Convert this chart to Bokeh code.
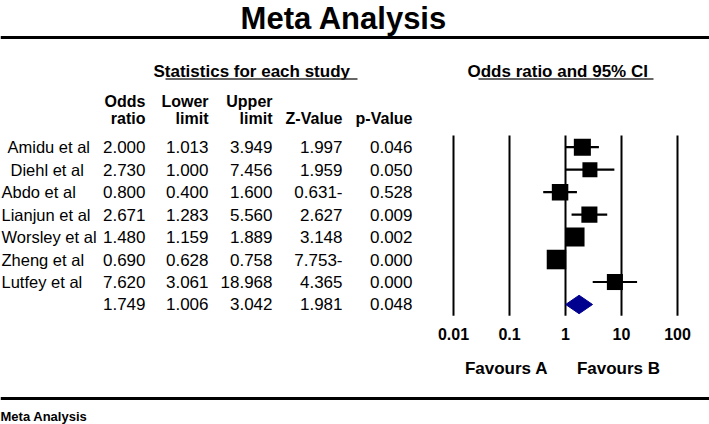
from bokeh.plotting import figure
from bokeh.models import Range1d, LogScale, Span
from bokeh.core.properties import value
from bokeh.embed import file_html
from bokeh.resources import INLINE

# ---------------- data ----------------
studies = ["Amidu et al", "Diehl et al", "Abdo et al", "Lianjun et al",
           "Worsley et al", "Zheng et al", "Lutfey et al"]
odds_ratio = [2.000, 2.730, 0.800, 2.671, 1.480, 0.690, 7.620]
lower_limit = [1.013, 1.000, 0.400, 1.283, 1.159, 0.628, 3.061]
upper_limit = [3.949, 7.456, 1.600, 5.560, 1.889, 0.758, 18.968]
z_value = [1.997, 1.959, -0.631, 2.627, 3.148, -7.753, 4.365]
p_value = [0.046, 0.050, 0.528, 0.009, 0.002, 0.000, 0.000]
rel_weight = [14.2, 11.0, 13.3, 12.6, 17.7, 18.6, 12.6]   # relative weights (%)

summary_or = 1.749
summary_lower = 1.006
summary_upper = 3.042
summary_z = 1.981
summary_p = 0.048

tick_values = [0.01, 0.1, 1, 10, 100]
tick_labels = ["0.01", "0.1", "1", "10", "100"]

title_text = "Meta Analysis"
left_heading = "Statistics for each study"
right_heading = "Odds ratio and 95% CI"
col_head_top = ["Odds", "Lower", "Upper", "", ""]
col_head_bottom = ["ratio", "limit", "limit", "Z-Value", "p-Value"]
favours = ["Favours A", "Favours B"]
favours_at = [0.1, 10]
footer_text = "Meta Analysis"

# ---------------- layout ----------------
W, H = 709, 424
ROW0, ROWH = 146.7, 22.47          # y of first row, row pitch (px)
OR_X1, DEC = 565.0, 56.0           # x of OR=1, px per decade
col_right = [145, 208, 272, 342, 412]
name_indent = [6, 9, 0, 0, 0, 0, 0]

FONT = value("Liberation Sans")

p = figure(width=W, height=H, output_backend="svg", toolbar_location=None,
           x_range=Range1d(0, W), y_range=Range1d(H, 0),
           x_axis_location=None, y_axis_location=None,
           min_border=0, outline_line_color=None)
p.xgrid.visible = False
p.ygrid.visible = False
p.background_fill_color = "white"
p.border_fill_color = "white"

p.extra_x_ranges = {"or": Range1d(10 ** ((0 - OR_X1) / DEC), 10 ** ((W - OR_X1) / DEC))}
p.extra_x_scales = {"or": LogScale()}
p.extra_y_ranges = {"rows": Range1d((H - ROW0) / ROWH, (0 - ROW0) / ROWH)}

# title and rules
p.text(x=[343.5], y=[18], text=[title_text], text_font=FONT, text_font_style="bold",
       text_font_size="31px", text_align="center", text_baseline="middle", text_color="black")
p.add_layout(Span(location=37, dimension="width", line_color="black", line_width=3))
p.add_layout(Span(location=398, dimension="width", line_color="black", line_width=3))
p.text(x=[0], y=[415.5], text=[footer_text], text_font=FONT, text_font_style="bold",
       text_font_size="13px", text_align="left", text_baseline="middle", text_color="black")

# section headings with underline
p.text(x=[153, 467], y=[71, 71], text=[left_heading, right_heading], text_font=FONT,
       text_font_style="bold", text_font_size="17px", text_align="left",
       text_baseline="middle", text_color="black")
p.segment(x0=[165, 478], y0=[78.5, 78.5], x1=[357, 653], y1=[78.5, 78.5],
          line_color="#333333", line_width=1.5)

# column headers
p.text(x=col_right, y=[101] * 5, text=col_head_top, text_font=FONT, text_font_style="bold",
       text_font_size="16px", text_align="right", text_baseline="middle", text_color="black")
p.text(x=col_right, y=[118] * 5, text=col_head_bottom, text_font=FONT, text_font_style="bold",
       text_font_size="16px", text_align="right", text_baseline="middle", text_color="black")

# table body
rows = list(range(len(studies)))
def fmt_z(v):
    return f"{abs(v):.3f}-" if v < 0 else f"{v:.3f}"

cols = [
    [f"{v:.3f}" for v in odds_ratio] + [f"{summary_or:.3f}"],
    [f"{v:.3f}" for v in lower_limit] + [f"{summary_lower:.3f}"],
    [f"{v:.3f}" for v in upper_limit] + [f"{summary_upper:.3f}"],
    [fmt_z(v) for v in z_value] + [fmt_z(summary_z)],
    [f"{v:.3f}" for v in p_value] + [f"{summary_p:.3f}"],
]
all_rows = rows + [len(studies)]
p.text(x=[1 + d for d in name_indent], y=rows, text=studies, y_range_name="rows", text_font=FONT,
       text_font_size="16.5px", text_align="left", text_baseline="middle", text_color="black")
for xr, c in zip(col_right, cols):
    p.text(x=[xr] * len(c), y=all_rows, text=c, y_range_name="rows", text_font=FONT,
           text_font_size="17px", text_align="right", text_baseline="middle", text_color="black")

# forest plot
n = len(studies)
p.segment(x0=tick_values, x1=tick_values, y0=[-0.52] * 5, y1=[n + 0.5] * 5,
          x_range_name="or", y_range_name="rows", line_color="black", line_width=2)
p.segment(x0=lower_limit, x1=upper_limit, y0=rows, y1=rows,
          x_range_name="or", y_range_name="rows", line_color="black", line_width=2.2)
sizes = [4.52 * (w ** 0.5) for w in rel_weight]
p.scatter(x=odds_ratio, y=rows, size=sizes, marker="square", x_range_name="or",
          y_range_name="rows", fill_color="black", line_color="black", line_width=0)
dh = 0.41
p.patch(x=[summary_lower, summary_or, summary_upper, summary_or],
        y=[n, n - dh, n, n + dh], x_range_name="or", y_range_name="rows",
        fill_color="#00008f", line_color="#00008f", line_width=1)

# tick labels and favours
p.text(x=tick_values, y=[333] * 5, text=tick_labels, x_range_name="or", text_font=FONT,
       text_font_style="bold", text_font_size="16px", text_align="center",
       text_baseline="middle", text_color="black")
p.text(x=favours_at, y=[368, 368], text=favours, x_range_name="or", x_offset=-3,
       text_font=FONT, text_font_style="bold", text_font_size="17px", text_align="center",
       text_baseline="middle", text_color="black")

open("out.html", "w").write(file_html(p, INLINE))
